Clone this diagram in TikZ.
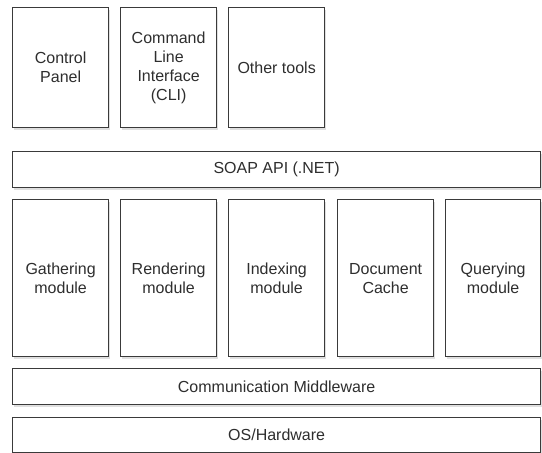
\documentclass[tikz,border=0pt]{standalone}
\usepackage{fontspec}
\setmainfont{Liberation Sans}
\usetikzlibrary{shadows}
\definecolor{linec}{HTML}{3A3A3A}
\definecolor{textc}{HTML}{2E2E2E}
\begin{document}
\begin{tikzpicture}[x=1pt,y=-1pt,
  blk/.style={draw=linec, line width=1.3pt, fill=white, anchor=north west,
    inner sep=2pt, align=center, text=textc,
    font=\fontsize{16}{19}\selectfont,
    drop shadow={shadow xshift=1pt, shadow yshift=-2pt, opacity=0.25, fill=gray}},
  tall/.style={blk, minimum width=96pt, minimum height=120pt},
  mod/.style={blk, minimum width=96pt, minimum height=157pt},
  wide/.style={blk, minimum width=528pt, minimum height=36pt}]
\useasboundingbox (0,0) rectangle (542,453);
\node[tall] (cp) at (12,7) {Control\\Panel};
\node[tall] (cli) at (120,7) {Command\\Line\\Interface\\(CLI)};
\node[tall] (other) at (228,7) {Other tools};
\node[wide] (soap) at (12,151) {SOAP API (.NET)};
\node[mod] (gather) at (12,199) {Gathering\\module};
\node[mod] (render) at (120,199) {Rendering\\module};
\node[mod] (index) at (228,199) {Indexing\\module};
\node[mod] (cache) at (337,199) {Document\\Cache};
\node[mod, minimum width=95pt] (query) at (445,199) {Querying\\module};
\node[wide] (mid) at (12,368) {Communication Middleware};
\node[wide, minimum height=35pt] (os) at (12,417) {OS/Hardware};
\end{tikzpicture}
\end{document}
